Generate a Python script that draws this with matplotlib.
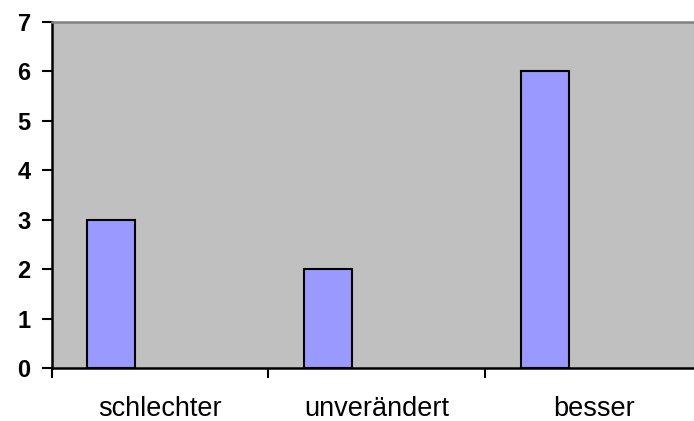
import matplotlib
matplotlib.use("Agg")
import matplotlib.pyplot as plt
import numpy as np

categories = ["schlechter", "unverändert", "besser"]
values = [3, 2, 6]
y_ticks = [0, 1, 2, 3, 4, 5, 6, 7]

W, H = 694, 421
fig = plt.figure(figsize=(W / 100, H / 100), dpi=100)
left, right = 51.5 / W, 702 / W
bottom, top = (H - 368) / H, (H - 21.7) / H
ax = fig.add_axes([left, bottom, right - left, top - bottom])
ax.set_facecolor("#C0C0C0")

x = np.arange(len(categories))
ax.bar(x - 0.225, values, width=0.221, color="#9999FF",
       edgecolor="black", linewidth=1.5, zorder=3)

ax.set_xlim(-0.5, len(categories) - 0.5)
ax.set_ylim(0, 7)
ax.set_yticks(y_ticks)
ax.set_yticklabels([str(v) for v in y_ticks], fontsize=17,
                   fontweight="bold", family="Liberation Sans")

ax.set_xticks(np.arange(-0.5, len(categories) - 0.4, 1.0))
ax.set_xticklabels([])
ax.set_xticks(x, minor=True)
ax.set_xticklabels(categories, minor=True, fontsize=19.5,
                   family="Liberation Sans")
ax.tick_params(axis="x", which="minor", length=0, pad=20)
ax.tick_params(axis="x", which="major", length=7, width=1.5, direction="out")
ax.tick_params(axis="y", length=7, width=1.5, direction="out", pad=8)

for s in ["left", "bottom"]:
    ax.spines[s].set_color("black")
    ax.spines[s].set_linewidth(1.8)
ax.spines["top"].set_color("#808080")
ax.spines["top"].set_linewidth(1.8)
ax.spines["right"].set_visible(False)

fig.savefig("out.png", dpi=100)
